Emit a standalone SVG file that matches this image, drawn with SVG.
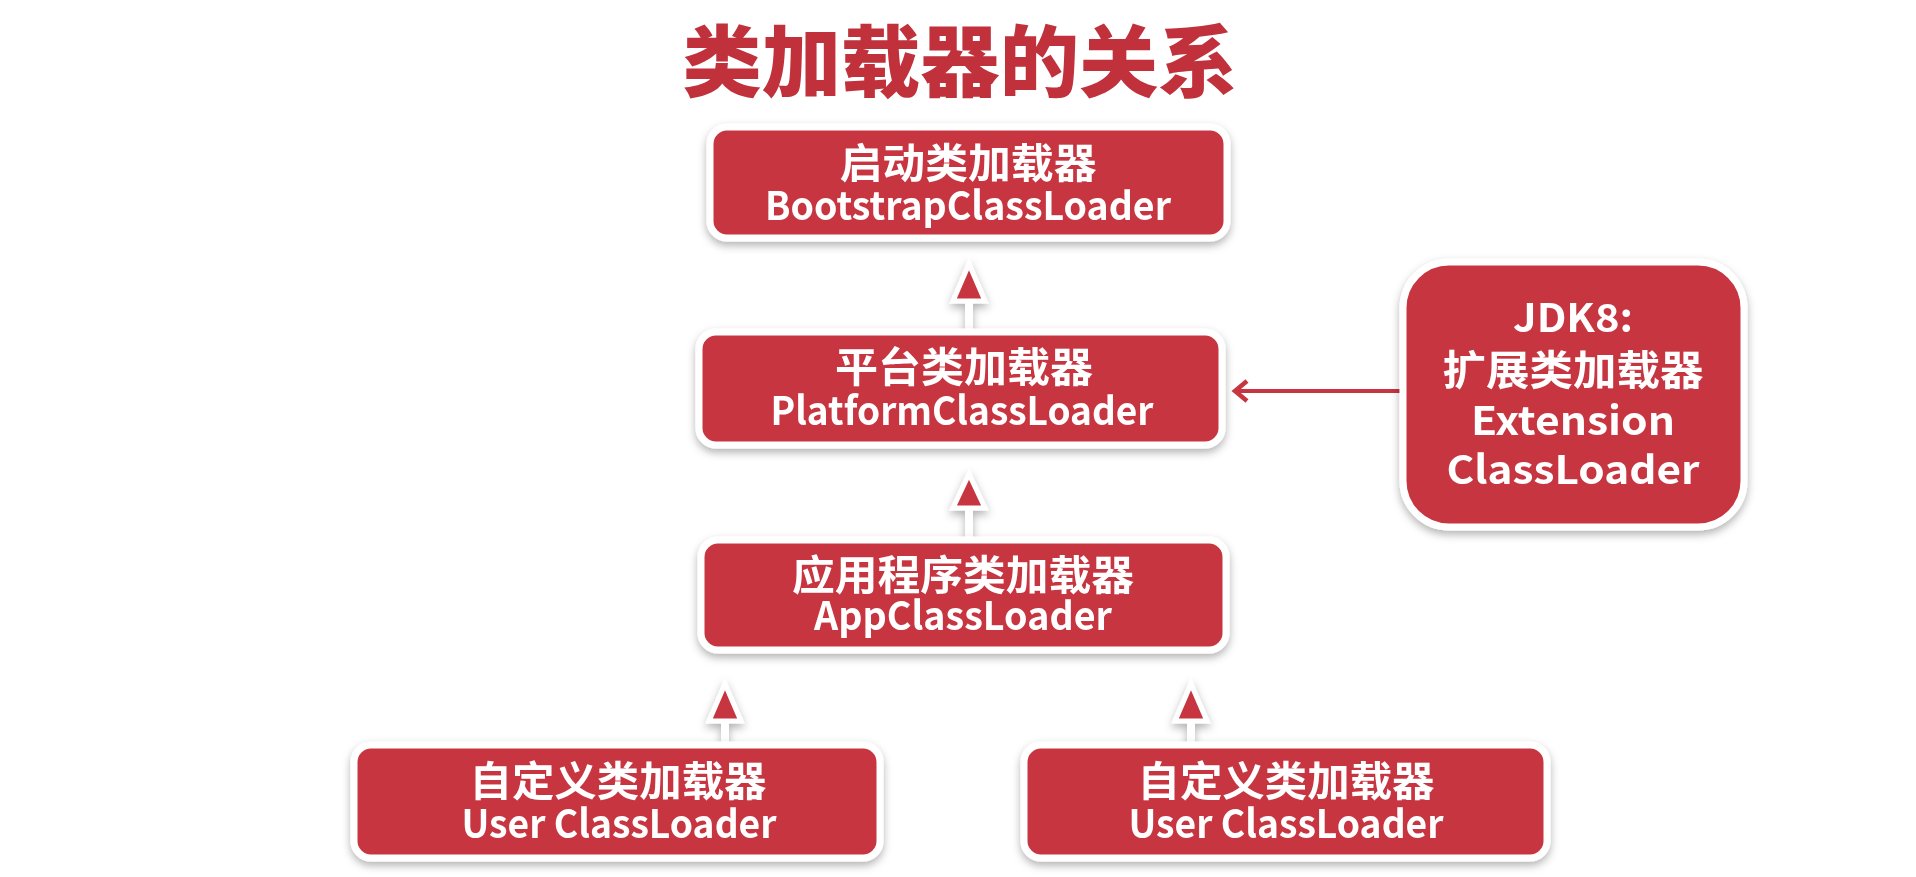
<svg xmlns="http://www.w3.org/2000/svg" width="1916" height="877" viewBox="0 0 1916 877">
<style>
.box{fill:#c73540;stroke:#ffffff;stroke-width:7}
.t{font-family:"Noto Sans CJK SC","Liberation Sans",sans-serif;font-weight:bold;fill:#ffffff;text-anchor:middle}
.c{font-size:41px}
.l{font-size:39px}
.title{font-family:"Noto Sans CJK SC","Liberation Sans",sans-serif;font-weight:900;font-size:78px;fill:#c0313b;text-anchor:middle}
.stub{stroke:#ffffff;stroke-width:8}
.tri{fill:#c73540;stroke:#ffffff;stroke-width:5;stroke-linejoin:miter}
</style>
<defs>
<filter id="sh" x="-10%" y="-10%" width="120%" height="130%">
<feDropShadow dx="0" dy="4" stdDeviation="4" flood-color="#000" flood-opacity="0.3"/>
</filter>
<marker id="open" viewBox="0 0 24 24" refX="19" refY="12" markerWidth="24" markerHeight="24" markerUnits="userSpaceOnUse" orient="auto">
<path d="M7,2 L19,12 L7,22" fill="none" stroke="#c73540" stroke-width="4.5"/>
</marker>
</defs>
<rect width="1916" height="877" fill="#ffffff"/>
<text class="title" x="960" y="91" textLength="555" lengthAdjust="spacingAndGlyphs">类加载器的关系</text>

<g id="connectors">
<g filter="url(#sh)">
<line class="stub" x1="969" y1="298" x2="969" y2="330"/>
<polygon class="tri" points="969,264 953,301 985,301"/>
<line class="stub" x1="969" y1="505" x2="969" y2="538"/>
<polygon class="tri" points="969,474 953,508 985,508"/>
<line class="stub" x1="725" y1="718" x2="725" y2="743"/>
<polygon class="tri" points="725,684 709,721 741,721"/>
<line class="stub" x1="1191" y1="718" x2="1191" y2="743"/>
<polygon class="tri" points="1191,684 1175,721 1207,721"/>
</g>
<line x1="1402" y1="391" x2="1235" y2="391" stroke="#c73540" stroke-width="4" marker-end="url(#open)"/>
</g>

<g id="bootstrap" filter="url(#sh)">
<rect class="box" x="710" y="127" width="517" height="111" rx="17"/>
<text class="t c" x="968" y="178" textLength="257" lengthAdjust="spacingAndGlyphs">启动类加载器</text>
<text class="t l" x="968" y="220" textLength="406" lengthAdjust="spacingAndGlyphs">BootstrapClassLoader</text>
</g>

<g id="platform" filter="url(#sh)">
<rect class="box" x="699" y="332" width="523" height="113" rx="17"/>
<text class="t c" x="964" y="382" textLength="258" lengthAdjust="spacingAndGlyphs">平台类加载器</text>
<text class="t l" x="962" y="425" textLength="383" lengthAdjust="spacingAndGlyphs">PlatformClassLoader</text>
</g>

<g id="app" filter="url(#sh)">
<rect class="box" x="701" y="540" width="525" height="110" rx="17"/>
<text class="t c" x="963" y="590" textLength="342" lengthAdjust="spacingAndGlyphs">应用程序类加载器</text>
<text class="t l" x="963" y="630" textLength="298" lengthAdjust="spacingAndGlyphs">AppClassLoader</text>
</g>

<g id="user1" filter="url(#sh)">
<rect class="box" x="354" y="745" width="526" height="113" rx="17"/>
<text class="t c" x="618" y="796" textLength="297" lengthAdjust="spacingAndGlyphs">自定义类加载器</text>
<text class="t l" x="619" y="838" textLength="315" lengthAdjust="spacingAndGlyphs">User ClassLoader</text>
</g>

<g id="user2" filter="url(#sh)">
<rect class="box" x="1024" y="745" width="523" height="113" rx="17"/>
<text class="t c" x="1286" y="796" textLength="297" lengthAdjust="spacingAndGlyphs">自定义类加载器</text>
<text class="t l" x="1286" y="838" textLength="315" lengthAdjust="spacingAndGlyphs">User ClassLoader</text>
</g>

<g id="extension" filter="url(#sh)">
<rect class="box" x="1403" y="262" width="341" height="265" rx="46"/>
<text class="t l" x="1573" y="332" textLength="120" lengthAdjust="spacingAndGlyphs">JDK8:</text>
<text class="t c" x="1573" y="385" textLength="261" lengthAdjust="spacingAndGlyphs">扩展类加载器</text>
<text class="t l" x="1573" y="435" textLength="204" lengthAdjust="spacingAndGlyphs">Extension</text>
<text class="t l" x="1573" y="484" textLength="253" lengthAdjust="spacingAndGlyphs">ClassLoader</text>
</g>
</svg>
